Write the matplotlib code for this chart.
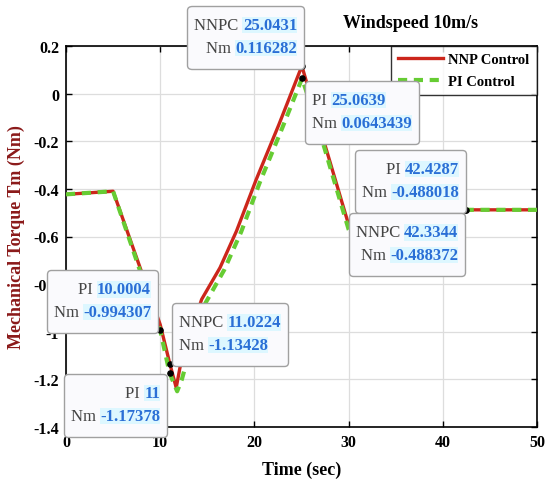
import matplotlib.pyplot as plt
from matplotlib.offsetbox import TextArea, HPacker, VPacker, DrawingArea, AnnotationBbox

plt.rcParams['font.family'] = ['Liberation Serif', 'DejaVu Serif']

# NNP control response
nnp_t = [0, 5, 10, 11.02, 11.7, 12.1, 13, 14.4, 16.35, 18.1, 20.2, 22.6, 25.04, 27, 30, 32, 33.5, 34.5, 36, 50]
nnp_tm = [-0.423, -0.41, -0.97, -1.134, -1.235, -1.15, -1.03, -0.864, -0.731, -0.577, -0.36, -0.13, 0.116,
          -0.15, -0.55, -0.69, -0.755, -0.6, -0.488, -0.488]

# PI control response
pi_t = [0, 5, 10, 11, 11.8, 12.3, 13.2, 14.8, 16.8, 18.6, 20.6, 23, 25.06, 27, 30, 32, 33.6, 34.6, 36, 50]
pi_tm = [-0.423, -0.41, -0.994, -1.174, -1.25, -1.2, -1.07, -0.88, -0.74, -0.58, -0.37, -0.14, 0.064,
         -0.17, -0.57, -0.69, -0.75, -0.61, -0.488, -0.488]

# data tips: (label, x, y)
tips = [('NNPC', 25.0431, 0.116282), ('PI', 25.0639, 0.0643439),
        ('PI', 42.4287, -0.488018), ('NNPC', 42.3344, -0.488372),
        ('PI', 10.0004, -0.994307), ('NNPC', 11.0224, -1.13428), ('PI', 11, -1.17378)]
tip_text = [('NNPC', '25.0431', '0.116282'), ('PI', '25.0639', '0.0643439'),
            ('PI', '42.4287', '-0.488018'), ('NNPC', '42.3344', '-0.488372'),
            ('PI', '10.0004', '-0.994307'), ('NNPC', '11.0224', '-1.13428'), ('PI', '11', '-1.17378')]

W, H = 550, 481
fig = plt.figure(figsize=(5.5, 4.81), dpi=100)
ax = fig.add_axes([66 / W, 1 - 428 / H, (537 - 66) / W, (428 - 47) / H])

ax.plot(nnp_t, nnp_tm, color='#CC261B', lw=2.4, label='NNP Control', zorder=3)
ax.plot(pi_t, pi_tm, color='#66CC33', lw=3.0, ls=(0, (2.2, 1.6)), label='PI Control', zorder=4)
ax.scatter([t[1] for t in tips], [t[2] for t in tips], s=14, color='black', zorder=6)

ax.set_xlim(0, 50)
ax.set_ylim(-1.4, 0.2)
ax.set_xticks(range(0, 51, 10))
ax.set_yticks([-1.4, -1.2, -1, -0.8, -0.6, -0.4, -0.2, 0, 0.2])
ax.set_yticklabels(['-1.4', '-1.2', '-1', '-0.8', '-0.6', '-0.4', '-0.2', '0', '0.2'])
ax.grid(True, color='#DDDDDD', lw=0.9)
ax.set_axisbelow(True)
ax.tick_params(direction='in', top=True, right=True, labelsize=11.5, length=4, width=1, pad=5)
for lab in ax.get_xticklabels() + ax.get_yticklabels():
    lab.set_fontweight('bold')
for sp in ax.spines.values():
    sp.set_linewidth(1.2)

ax.set_xlabel('Time (sec)', fontsize=13, fontweight='bold', labelpad=8)
ax.set_ylabel('Mechanical Torque Tm (Nm)', fontsize=13, fontweight='bold', color='#8B1A1A', labelpad=6)
fig.text(411 / W, 1 - 23 / H, 'Windspeed 10m/s', fontsize=13, fontweight='bold', ha='center', va='center')

leg = ax.legend(loc='upper right', prop={'weight': 'bold', 'size': 10.5},
                frameon=True, fancybox=False, edgecolor='black', borderaxespad=0,
                handlelength=3.1, handletextpad=0.35, borderpad=0.5, labelspacing=0.55)
leg.get_frame().set_linewidth(1.0)

# box frame corners in pixels: (anchor x, top y, align)
box_pos = [(304, 7, 'right'), (305, 82, 'left'), (466, 151, 'right'), (465, 214, 'right'),
           (158, 271, 'right'), (172, 304, 'left'), (167, 375, 'right')]
hpad = 7  # px between frame and text

for (name, xv, yv), (bx, by, al) in zip(tip_text, box_pos):
    rows = []
    for lab, val in ((name, xv), ('Nm', yv)):
        t1 = TextArea(lab + ' ', textprops=dict(color='#444444', fontsize=12))
        t2 = TextArea(val, textprops=dict(color='#2A6FD6', fontsize=12, fontweight='bold',
                                          bbox=dict(fc='#DDF7FF', ec='none', pad=0.3)))
        rows.append(HPacker(children=[t1, t2], pad=0, sep=0))
    vp = VPacker(children=[DrawingArea(0, 3), rows[0], DrawingArea(0, 5), rows[1], DrawingArea(0, 4.5)],
                 align=al, pad=0, sep=0)
    if al == 'right':
        xa, ax_px = 1.0, bx - hpad
    else:
        xa, ax_px = 0.0, bx + hpad
    ab = AnnotationBbox(vp, (ax_px, H - by - hpad), xycoords='figure pixels', box_alignment=(xa, 1.0),
                        frameon=True, zorder=10, fontsize=10,
                        bboxprops=dict(boxstyle='round,pad=%.3f,rounding_size=0.3' % (hpad / 13.889),
                                       fc='#FAFAFD', ec='#A0A0A0', lw=1))
    fig.add_artist(ab)

fig.savefig('out.png', dpi=100)
